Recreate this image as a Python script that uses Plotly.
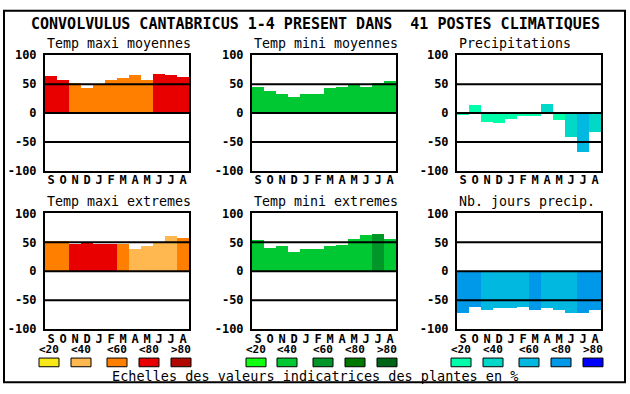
import plotly.graph_objects as go

W, H = 630, 394

months = ["S", "O", "N", "D", "J", "F", "M", "A", "M", "J", "J", "A"]
y_ticks = [-100, -50, 0, 50, 100]
legend_labels = ["<20", "<40", "<60", "<80", ">80"]

main_title = "CONVOLVULUS CANTABRICUS 1-4 PRESENT DANS  41 POSTES CLIMATIQUES"
footer = "Echelles des valeurs indicatrices des plantes en %"

panel_titles = ["Temp maxi moyennes", "Temp mini moyennes", "Precipitations",
                "Temp maxi extremes", "Temp mini extremes", "Nb. jours precip."]

warm = ["#F8E818", "#FFB850", "#FF8000", "#E80000", "#B00800"]
green = ["#10FF10", "#00C832", "#009628", "#007800", "#006418"]
blue = ["#00FFAA", "#00D8C8", "#00B8E0", "#0098E8", "#0000FF"]

tmax_moy = [63, 57, 52, 43, 50, 57, 60, 65, 57, 67, 65, 62]
tmax_moy_cls = [3, 3, 2, 2, 2, 2, 2, 2, 2, 3, 3, 3]
tmin_moy = [45, 37, 32, 27, 32, 32, 43, 45, 50, 45, 52, 55]
tmin_moy_cls = [1] * 12
precip = [-3, 13, -16, -18, -11, -6, -6, 15, -13, -41, -67, -33]
precip_cls = [0, 0, 0, 0, 0, 0, 0, 1, 0, 1, 2, 1]
tmax_ext = [52, 52, 47, 48, 47, 47, 47, 37, 43, 48, 60, 57]
tmax_ext_cls = [2, 2, 3, 3, 3, 3, 2, 1, 1, 1, 1, 2]
tmin_ext = [53, 40, 43, 33, 37, 37, 43, 45, 55, 62, 63, 55]
tmin_ext_cls = [1, 1, 1, 1, 1, 1, 1, 1, 1, 1, 2, 1]
njours = [-72, -63, -67, -65, -65, -63, -68, -65, -68, -72, -72, -68]
njours_cls = [3, 3, 2, 2, 2, 2, 3, 2, 2, 2, 3, 3]

panels = [
    (tmax_moy, tmax_moy_cls, warm),
    (tmin_moy, tmin_moy_cls, green),
    (precip, precip_cls, blue),
    (tmax_ext, tmax_ext_cls, warm),
    (tmin_ext, tmin_ext_cls, green),
    (njours, njours_cls, blue),
]

# pixel layout of plot areas
col_x = [(45, 189), (252, 396), (457, 601)]
row_y = [(50, 170), (214, 334)]
title_y = [38, 202]
legend_label_y = 355
swatch_y = (364, 373)
swatch_x = [
    [(39, 59), (71, 91), (107, 127), (139, 159), (171, 191)],
    [(246, 266), (277, 297), (313, 333), (345, 365), (377, 397)],
    [(451, 471), (483, 503), (519, 539), (551, 571), (583, 603)],
]

def px(x):
    return x / W

def py(y):
    return 1 - y / H

MONO = "DejaVu Sans Mono"
fig = go.Figure()
shapes = []
annotations = []
layout = {}

for i, (vals, cls, pal) in enumerate(panels):
    n = i + 1
    r, c = divmod(i, 3)
    xa = "x" if n == 1 else f"x{n}"
    ya = "y" if n == 1 else f"y{n}"
    fig.add_trace(go.Bar(
        x=list(range(12)), y=vals,
        marker=dict(color=[pal[k] for k in cls], line=dict(width=0)),
        width=1, xaxis=xa, yaxis=ya, showlegend=False, hoverinfo="skip",
    ))
    x0, x1 = col_x[c]
    y0, y1 = row_y[r]
    layout[f"xaxis{'' if n == 1 else n}"] = dict(
        domain=[px(x0), px(x1)], anchor=ya, range=[-0.5, 11.5],
        tickvals=list(range(12)), ticktext=months, showgrid=False, zeroline=False,
        showline=True, mirror=True, linecolor="black", linewidth=2, ticks="",
        tickfont=dict(family=MONO, size=12, color="black", weight="bold"),
        ticklabelstandoff=-3, fixedrange=True,
    )
    layout[f"yaxis{'' if n == 1 else n}"] = dict(
        domain=[py(y1), py(y0)], anchor=xa, range=[-100, 100],
        tickvals=y_ticks, ticktext=[str(v) for v in y_ticks], showgrid=False,
        zeroline=False, showline=True, mirror=True, linecolor="black", linewidth=2,
        ticks="", ticklabelstandoff=4,
        tickfont=dict(family=MONO, size=12, color="black", weight="bold"),
        fixedrange=True,
    )
    for lv in (-50, 0, 50):
        shapes.append(dict(type="line", xref=f"{xa} domain", yref=ya, x0=0, x1=1,
                           y0=lv, y1=lv, line=dict(color="black", width=2), layer="above"))
    annotations.append(dict(text=panel_titles[i], x=px(x0), y=py(title_y[r]),
                            xref="paper", yref="paper", xanchor="left", yanchor="middle",
                            showarrow=False, font=dict(family=MONO, size=13.3, color="black")))

# legends
for c in range(3):
    pal = [warm, green, blue][c]
    for k in range(5):
        sx0, sx1 = swatch_x[c][k]
        shapes.append(dict(type="rect", xref="paper", yref="paper",
                           x0=px(sx0), x1=px(sx1), y0=py(swatch_y[1]), y1=py(swatch_y[0]),
                           fillcolor=pal[k], line=dict(color="black", width=1)))
        annotations.append(dict(text=legend_labels[k], x=px((sx0 + sx1) / 2), y=py(legend_label_y),
                                xref="paper", yref="paper", xanchor="center", yanchor="middle",
                                showarrow=False,
                                font=dict(family=MONO, size=11, color="black", weight="bold")))

annotations.append(dict(text=main_title, x=px(315), y=py(18), xref="paper", yref="paper",
                        xanchor="center", yanchor="middle", showarrow=False,
                        font=dict(family=MONO, size=15, color="black", weight="bold")))
annotations.append(dict(text=footer, x=px(314.5), y=py(383), xref="paper", yref="paper",
                        xanchor="center", yanchor="middle", showarrow=False,
                        font=dict(family=MONO, size=13.5, color="black")))

# outer frame
shapes.append(dict(type="rect", xref="paper", yref="paper", x0=px(4), x1=px(625),
                   y0=py(389), y1=py(4), line=dict(color="black", width=2)))

fig.update_layout(
    width=W, height=H, margin=dict(l=0, r=0, t=0, b=0),
    paper_bgcolor="white", plot_bgcolor="white", bargap=0,
    shapes=shapes, annotations=annotations, **layout,
)

post = """
(function(){
  var css = document.createElement('style');
  css.textContent = 'html,body{margin:0;padding:0;overflow:hidden;}';
  document.head.appendChild(css);
})();
"""
fig.write_html("out.html", config={"displayModeBar": False}, post_script=post)
